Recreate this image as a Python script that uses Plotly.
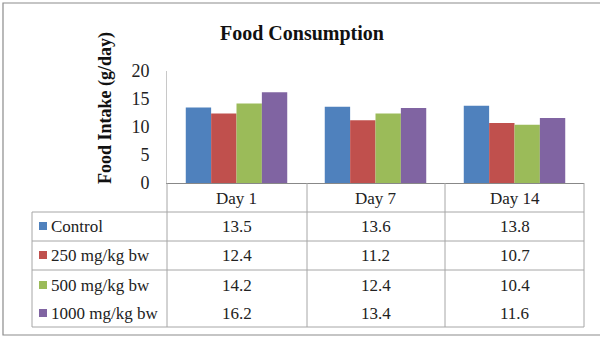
import plotly.graph_objects as go

categories = ["Day 1", "Day 7", "Day 14"]
series_names = ["Control", "250 mg/kg bw", "500 mg/kg bw", "1000 mg/kg bw"]
control = [13.5, 13.6, 13.8]
dose_250 = [12.4, 11.2, 10.7]
dose_500 = [14.2, 12.4, 10.4]
dose_1000 = [16.2, 13.4, 11.6]
y_ticks = [0, 5, 10, 15, 20]

series_values = [control, dose_250, dose_500, dose_1000]
colors = ["#4F81BD", "#C0504D", "#9BBB59", "#8064A2"]

FONT = "Liberation Serif"

# plot area in pixels
L, R, T, B = 167, 584, 71, 183
W, H = R - L, B - T


def px(x):
    return (x - L) / W


def py(y):
    return (B - y) / H


fig = go.Figure()
for name, vals, col in zip(series_names, series_values, colors):
    fig.add_trace(go.Bar(x=categories, y=vals, name=name, marker=dict(color=col, line=dict(width=0))))

shapes = []
grid = "#A6A6A6"


def hline(y, x0, x1, color=grid, w=1):
    shapes.append(dict(type="line", xref="paper", yref="paper", x0=px(x0), x1=px(x1), y0=py(y), y1=py(y),
                       line=dict(color=color, width=w)))


def vline(x, y0, y1, color=grid, w=1):
    shapes.append(dict(type="line", xref="paper", yref="paper", x0=px(x), x1=px(x), y0=py(y0), y1=py(y1),
                       line=dict(color=color, width=w)))


# outer chart border
shapes.append(dict(type="rect", xref="paper", yref="paper", x0=px(3), x1=px(606), y0=py(335), y1=py(3),
                   line=dict(color="#8C8C8C", width=1.2)))

# data table
col_edges = [167, 307, 445, 584]
row_edges = [212, 241, 270, 299, 327]
for x in col_edges:
    vline(x, B, row_edges[-1])
vline(32, row_edges[0], row_edges[-1])
for i, y in enumerate(row_edges):
    if i == 3:
        continue
    hline(y, 32, 584)

TS = 17
annotations = []
# header labels
for c in categories:
    annotations.append(dict(x=c, xref="x", y=py(198), yref="paper", text=c, showarrow=False,
                            font=dict(family=FONT, size=TS, color="#222"), xanchor="center", yanchor="middle"))

row_centers = [226, 255, 285, 313]
for name, vals, col, yc in zip(series_names, series_values, colors, row_centers):
    shapes.append(dict(type="rect", xref="paper", yref="paper", x0=px(39), x1=px(47), y0=py(yc + 4), y1=py(yc - 4),
                       line=dict(width=0), fillcolor=col))
    annotations.append(dict(x=px(49), xref="paper", y=py(yc), yref="paper", text=name, showarrow=False,
                            font=dict(family=FONT, size=TS, color="#222"), xanchor="left", yanchor="middle"))
    for c, v in zip(categories, vals):
        annotations.append(dict(x=c, xref="x", y=py(yc), yref="paper", text=f"{v}", showarrow=False,
                                font=dict(family=FONT, size=TS, color="#222"), xanchor="center", yanchor="middle"))

# title and y-axis title
annotations.append(dict(x=px(302), xref="paper", y=py(33), yref="paper", text="<b>Food Consumption</b>",
                        showarrow=False, font=dict(family=FONT, size=20, color="#111"),
                        xanchor="center", yanchor="middle"))
annotations.append(dict(x=px(105), xref="paper", y=py(108), yref="paper", text="<b>Food Intake (g/day)</b>",
                        showarrow=False, textangle=-90, font=dict(family=FONT, size=18, color="#111"),
                        xanchor="center", yanchor="middle"))

fig.update_layout(
    width=600, height=338,
    margin=dict(l=L, r=600 - R, t=T, b=338 - B, pad=0),
    paper_bgcolor="white", plot_bgcolor="white",
    barmode="group", bargap=0.27, bargroupgap=0,
    showlegend=False,
    xaxis=dict(showticklabels=False, ticks="", showgrid=False, showline=True, linecolor="#888",
               linewidth=1, zeroline=False, fixedrange=True),
    yaxis=dict(range=[0, 20], tickvals=y_ticks, showgrid=False, showline=True, linecolor="#C8C8C8",
               linewidth=1, zeroline=False, ticks="", ticklabelstandoff=13,
               tickfont=dict(family=FONT, size=18, color="#222")),
    shapes=shapes, annotations=annotations,
)

fig.write_html("out.html", config={"displayModeBar": False},
               post_script="document.body.style.margin='0';document.body.style.overflow='hidden';")
